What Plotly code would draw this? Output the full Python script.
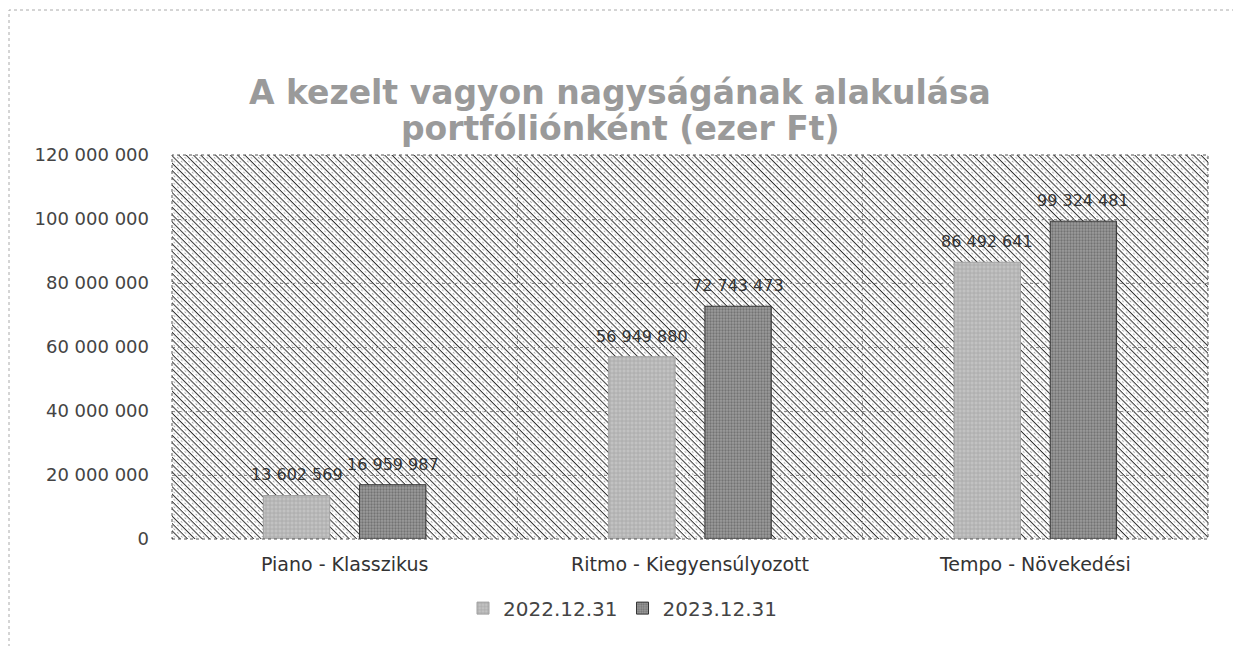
import base64
import plotly.graph_objects as go

categories = ["Piano - Klasszikus", "Ritmo - Kiegyensúlyozott", "Tempo - Növekedési"]
series_names = ["2022.12.31", "2023.12.31"]
values_2022 = [13602569, 56949880, 86492641]
values_2023 = [16959987, 72743473, 99324481]
y_ticks = [0, 20000000, 40000000, 60000000, 80000000, 100000000, 120000000]
title_lines = ["A kezelt vagyon nagyságának alakulása", "portfóliónként (ezer Ft)"]

# page body has an 8px margin, so the figure is drawn 8px in from the window edge
W, H = 1233, 638
L, R, T, B = 164, 33, 147, 107
PW, PH = W - L - R, H - T - B
BARGAP, BARGROUPGAP = 0.443, 0.31
FONT = "DejaVu Sans, Liberation Sans, Arial, sans-serif"

svg = f'''<svg xmlns="http://www.w3.org/2000/svg" width="{PW}" height="{PH}">
<defs><pattern id="p" width="5.2" height="5.2" patternUnits="userSpaceOnUse" patternTransform="rotate(45)">
<rect x="0" y="0" width="5.2" height="5.2" fill="#ffffff"/>
<rect x="0" y="0" width="5.2" height="1.0" fill="#333333"/>
<rect x="0" y="2.6" width="2.2" height="0.9" fill="#ababab"/>
</pattern></defs>
<rect width="{PW}" height="{PH}" fill="url(#p)"/>
</svg>'''
src = "data:image/svg+xml;base64," + base64.b64encode(svg.encode()).decode()

fig = go.Figure()
fig.add_trace(go.Bar(
    x=categories, y=values_2022, name=series_names[0],
    marker=dict(color="#c2c2c2", line=dict(color="#a0a0a0", width=1),
                pattern=dict(shape="+", fgcolor="#8a8a8a", size=4, solidity=0.35, fillmode="overlay")),
))
fig.add_trace(go.Bar(
    x=categories, y=values_2023, name=series_names[1],
    marker=dict(color="#9c9c9c", line=dict(color="#333333", width=1),
                pattern=dict(shape=".", fgcolor="#4a4a4a", size=3, solidity=0.45, fillmode="overlay")),
))

# value labels above each bar, placed through the axes with a pixel offset for the group slot
cat_px = PW / len(categories)
slot_px = cat_px * (1 - BARGAP) / 2
annotations = []
for vals, sign in ((values_2022, -1), (values_2023, 1)):
    for c, v in zip(categories, vals):
        annotations.append(dict(
            x=c, y=v, xref="x", yref="y", text=f"{v:,d}".replace(",", " "),
            showarrow=False, xanchor="center", yanchor="bottom",
            xshift=sign * slot_px / 2, yshift=9,
            font=dict(size=16, color="#333333", family=FONT),
        ))

# two-line chart title
for line, ypx in zip(title_lines, (84, 120)):
    annotations.append(dict(
        text="<b>" + line + "</b>", xref="paper", yref="paper", x=(620 - 8 - L) / PW, y=(PH + T - ypx) / PH,
        xanchor="center", yanchor="middle", showarrow=False,
        font=dict(size=33, color="#9a9a9a", family=FONT),
    ))

fig.update_layout(
    width=W, height=H, autosize=False,
    margin=dict(l=L, r=R, t=T, b=B, autoexpand=False),
    paper_bgcolor="white", plot_bgcolor="white",
    separators=", ",
    barmode="group", bargap=BARGAP, bargroupgap=BARGROUPGAP,
    font=dict(family=FONT, size=18, color="#444444"),
    xaxis=dict(
        showgrid=True, tickson="boundaries", gridcolor="#8a8a8a", griddash="dot", gridwidth=1,
        showline=False, ticks="", tickangle=0,
        ticklabelstandoff=12, tickfont=dict(size=19, color="#333333", family=FONT),
    ),
    yaxis=dict(
        range=[0, 120000000], tickvals=y_ticks, tickformat=",d",
        showgrid=True, gridcolor="#8a8a8a", griddash="dot", gridwidth=1,
        zeroline=False, showline=False, ticks="", ticklabelstandoff=22,
        tickfont=dict(size=18, color="#444444", family=FONT),
    ),
    legend=dict(orientation="h", x=(615 - L) / PW, xanchor="center", y=-0.18, yanchor="middle",
                font=dict(size=20, color="#444444", family=FONT), itemwidth=30, traceorder="normal"),
    annotations=annotations,
    images=[dict(source=src, xref="paper", yref="paper", x=0, y=1, sizex=1, sizey=1,
                 sizing="stretch", layer="below", xanchor="left", yanchor="top")],
    shapes=[
        dict(type="rect", xref="paper", yref="paper", x0=0, x1=1, y0=0, y1=1,
             line=dict(color="#555555", width=1, dash="dot"), fillcolor="rgba(0,0,0,0)", layer="above"),
        dict(type="rect", xref="paper", yref="paper",
             x0=(1 - L) / PW, x1=(1228 - L) / PW, y0=(PH + T - 700) / PH, y1=(PH + T - 2) / PH,
             line=dict(color="#aaaaaa", width=1, dash="dot"), fillcolor="rgba(0,0,0,0)"),
    ],
)

fig.write_html("out.html")
